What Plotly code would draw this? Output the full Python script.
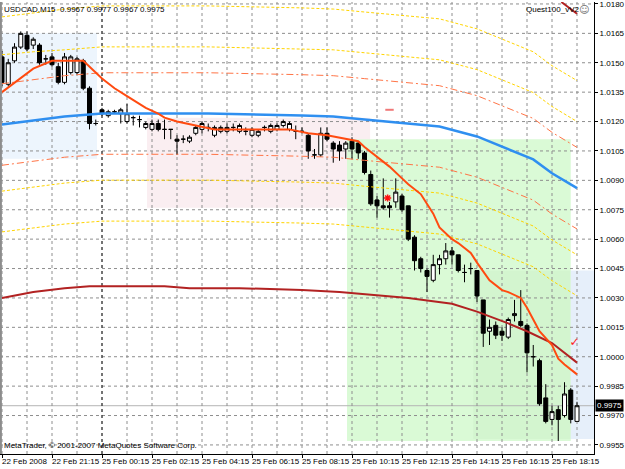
import plotly.graph_objects as go

# ---------------- data ----------------
bar_idx = list(range(93))
opens = [1.0153, 1.0139, 1.0151, 1.0158, 1.0164, 1.0159, 1.0159, 1.0152, 1.0153, 1.0148,
         1.0140, 1.0145, 1.0145, 1.0151, 1.0137, 1.0119, 1.0126, 1.0123, 1.0125, 1.0124,
         1.0120, 1.0122, 1.0121, 1.0117, 1.0116, 1.0119, 1.0116, 1.0116, 1.0111, 1.0111,
         1.0110, 1.0114, 1.0116, 1.0117, 1.0113, 1.0115, 1.0115, 1.0117, 1.0115, 1.0115,
         1.0113, 1.0113, 1.0117, 1.0115, 1.0116, 1.0118, 1.0116, 1.0115, 1.0115, 1.0113,
         1.0103, 1.0103, 1.0114, 1.0109, 1.0108, 1.0106, 1.0110, 1.0109, 1.0104, 1.0093,
         1.0080, 1.0077, 1.0077, 1.0079, 1.0082, 1.0077, 1.0061, 1.0050, 1.0044, 1.0039,
         1.0047, 1.0050, 1.0054, 1.0052, 1.0043, 1.0045, 1.0044, 1.0029, 1.0013, 1.0016,
         1.0013, 1.0010, 1.0021, 1.0018, 1.0016, 1.0000, 0.9998, 0.9979, 0.9968, 0.9973,
         0.9970, 0.9983, 0.9967]
highs = [1.0156, 1.0152, 1.0160, 1.0166, 1.0166, 1.0163, 1.0160, 1.0154, 1.0155, 1.0150,
         1.0155, 1.0154, 1.0153, 1.0152, 1.0138, 1.0121, 1.0127, 1.0126, 1.0126, 1.0127,
         1.0129, 1.0123, 1.0123, 1.0120, 1.0121, 1.0121, 1.0121, 1.0116, 1.0113, 1.0113,
         1.0113, 1.0118, 1.0120, 1.0119, 1.0118, 1.0118, 1.0119, 1.0119, 1.0119, 1.0117,
         1.0117, 1.0116, 1.0118, 1.0119, 1.0119, 1.0121, 1.0120, 1.0118, 1.0117, 1.0114,
         1.0106, 1.0117, 1.0117, 1.0110, 1.0110, 1.0110, 1.0112, 1.0110, 1.0105, 1.0095,
         1.0082, 1.0091, 1.0079, 1.0091, 1.0083, 1.0077, 1.0062, 1.0051, 1.0045, 1.0052,
         1.0052, 1.0058, 1.0056, 1.0052, 1.0047, 1.0048, 1.0044, 1.0029, 1.0019, 1.0018,
         1.0015, 1.0020, 1.0029, 1.0034, 1.0017, 1.0006, 0.9999, 0.9986, 0.9975, 0.9975,
         0.9987, 0.9984, 0.9977]
lows = [1.0138, 1.0138, 1.0150, 1.0157, 1.0156, 1.0157, 1.0149, 1.0149, 1.0148, 1.0139,
        1.0139, 1.0144, 1.0144, 1.0136, 1.0116, 1.0118, 1.0123, 1.0122, 1.0124, 1.0119,
        1.0119, 1.0118, 1.0117, 1.0116, 1.0115, 1.0115, 1.0111, 1.0111, 1.0103, 1.0109,
        1.0109, 1.0113, 1.0114, 1.0115, 1.0112, 1.0114, 1.0114, 1.0115, 1.0114, 1.0113,
        1.0112, 1.0112, 1.0115, 1.0114, 1.0115, 1.0117, 1.0115, 1.0111, 1.0114, 1.0101,
        1.0101, 1.0102, 1.0110, 1.0099, 1.0100, 1.0101, 1.0101, 1.0101, 1.0093, 1.0077,
        1.0071, 1.0075, 1.0071, 1.0076, 1.0074, 1.0059, 1.0044, 1.0043, 1.0033, 1.0038,
        1.0042, 1.0047, 1.0047, 1.0043, 1.0038, 1.0042, 1.0028, 1.0005, 1.0006, 1.0009,
        1.0008, 1.0009, 1.0018, 1.0015, 0.9992, 0.9995, 0.9975, 0.9966, 0.9965, 0.9957,
        0.9969, 0.9966, 0.9967]
closes = [1.0140, 1.0150, 1.0158, 1.0165, 1.0157, 1.0162, 1.0150, 1.0152, 1.0149, 1.0140,
          1.0153, 1.0153, 1.0152, 1.0137, 1.0119, 1.0119, 1.0124, 1.0125, 1.0125, 1.0126,
          1.0124, 1.0122, 1.0121, 1.0119, 1.0119, 1.0116, 1.0116, 1.0116, 1.0110, 1.0111,
          1.0112, 1.0117, 1.0119, 1.0117, 1.0117, 1.0117, 1.0117, 1.0117, 1.0118, 1.0115,
          1.0116, 1.0115, 1.0117, 1.0118, 1.0118, 1.0120, 1.0119, 1.0115, 1.0115, 1.0105,
          1.0103, 1.0114, 1.0111, 1.0106, 1.0105, 1.0109, 1.0106, 1.0104, 1.0094, 1.0078,
          1.0077, 1.0076, 1.0076, 1.0084, 1.0075, 1.0060, 1.0049, 1.0045, 1.0041, 1.0047,
          1.0050, 1.0054, 1.0052, 1.0044, 1.0043, 1.0045, 1.0031, 1.0012, 1.0015, 1.0011,
          1.0011, 1.0019, 1.0022, 1.0016, 1.0002, 1.0000, 0.9976, 0.9967, 0.9972, 0.9968,
          0.9981, 0.9968, 0.9975]

x_label_idx = [0, 8, 16, 24, 32, 40, 48, 56, 64, 72, 80, 88]
x_labels = ["22 Feb 2008", "22 Feb 21:15", "25 Feb 00:15", "25 Feb 02:15", "25 Feb 04:15",
            "25 Feb 06:15", "25 Feb 08:15", "25 Feb 10:15", "25 Feb 12:15", "25 Feb 14:15",
            "25 Feb 16:15", "25 Feb 18:15"]
x_grid_idx = [0, 4, 8, 12, 16, 20, 24, 28, 32, 36, 40, 44, 48, 52, 56, 60, 64, 68, 72,
              76, 80, 84, 88, 92]
y_ticks = [1.0180, 1.0165, 1.0150, 1.0135, 1.0120, 1.0105, 1.0090, 1.0075, 1.0060,
           1.0045, 1.0030, 1.0015, 1.0000, 0.9985, 0.9970, 0.9955]

# fast moving average (orange-red)
ema_idx = [0, 5, 8, 13, 16, 18, 20, 23, 25, 26, 28, 31, 34, 46, 49, 52, 57, 58, 60, 62,
           64, 65, 67, 69, 70, 72, 73, 75, 76, 78, 80, 81, 83, 84, 86, 88, 89, 90, 92]
ema_val = [1.0135, 1.0147, 1.0151, 1.0151, 1.0142, 1.0137, 1.0133, 1.0127, 1.0124, 1.0122,
           1.0120, 1.0118, 1.0116, 1.0116, 1.0114, 1.0113, 1.0110, 1.0107, 1.0102, 1.0097,
           1.0091, 1.0088, 1.0083, 1.0073, 1.0066, 1.0060, 1.0058, 1.0053, 1.0048, 1.0039,
           1.0034, 1.0033, 1.0030, 1.0025, 1.0013, 1.0006, 0.9999, 0.9996, 0.9991]

# slow average (dark red)
slow_idx = [0, 5, 10, 14, 26, 30, 38, 48, 54, 58, 65, 72, 76, 81, 84, 88, 92]
slow_val = [1.0030, 1.0033, 1.0035, 1.0036, 1.0036, 1.0035, 1.0035, 1.0034, 1.0033, 1.0032,
            1.0030, 1.0027, 1.0023, 1.0017, 1.0013, 1.0007, 0.9997]

# middle line (blue) and its envelopes
mid_idx = [0, 5, 10, 16, 33, 48, 53, 58, 65, 70, 76, 81, 85, 88, 92]
mid_val = [1.01185, 1.01205, 1.01226, 1.01241, 1.01241, 1.01231, 1.01226, 1.01211,
           1.01190, 1.01175, 1.01124, 1.01058, 1.01007, 1.00936, 1.00860]
env_up1 = [1.01393, 1.01414, 1.01434, 1.01449, 1.01449, 1.01439, 1.01434, 1.01419,
           1.01399, 1.01383, 1.01332, 1.01266, 1.01216, 1.01145, 1.01068]
env_dn1 = [1.00977, 1.00997, 1.01018, 1.01033, 1.01033, 1.01023, 1.01018, 1.01002,
           1.00982, 1.00967, 1.00916, 1.00850, 1.00799, 1.00728, 1.00652]
env_up2 = [1.01541, 1.01556, 1.01566, 1.01581, 1.01581, 1.01571, 1.01566, 1.01551,
           1.01531, 1.01515, 1.01465, 1.01399, 1.01348, 1.01277, 1.01200]
env_dn2 = [1.00845, 1.00865, 1.00886, 1.00901, 1.00901, 1.00891, 1.00886, 1.00870,
           1.00850, 1.00835, 1.00784, 1.00718, 1.00667, 1.00596, 1.00520]
env_up3 = [1.01734, 1.01754, 1.01774, 1.01790, 1.01790, 1.01780, 1.01774, 1.01759,
           1.01739, 1.01724, 1.01673, 1.01607, 1.01556, 1.01485, 1.01409]
env_dn3 = [1.00637, 1.00657, 1.00677, 1.00692, 1.00692, 1.00682, 1.00677, 1.00662,
           1.00642, 1.00626, 1.00576, 1.00510, 1.00459, 1.00388, 1.00311]

# short dark-red segment at the top right
seg_idx = [89.5, 92]
seg_val = [1.0181, 1.0175]

# signal marks
dash_sig_idx = [62]
dash_sig_val = [1.0126]
star_sig_idx = [61.7]
star_sig_val = [1.0081]
check_sig_idx = [91.6]
check_sig_val = [1.0007]

# shaded zones (bar index / price)
zone_x0 = [-1.0, 23.2, 55.2, 75.4, 91.0]
zone_x1 = [15.2, 58.9, 91.0, 91.0, 96.0]
zone_y0 = [1.0101, 1.0076, 0.9957, 0.9958, 0.9958]
zone_y1 = [1.0165, 1.0122, 1.0111, 1.0044, 1.0044]
zone_colors = ["#EDF5FD", "#FAEEF1", "#DAFAD6", "#D3F5CF", "#E6EFFA"]

bid_price = 0.9975
separator_idx = 16

FONT = "Liberation Sans"
X_RANGE = [-0.32, 94.72]
Y_RANGE = [0.995037, 1.0181]

fig = go.Figure()

# candles
fig.add_trace(go.Candlestick(
    x=bar_idx, open=opens, high=highs, low=lows, close=closes,
    increasing=dict(line=dict(color="black", width=1), fillcolor="white"),
    decreasing=dict(line=dict(color="black", width=1), fillcolor="black"),
    whiskerwidth=0, hoverinfo="skip", showlegend=False))

def line(xs, ys, color, width, dash="solid"):
    fig.add_trace(go.Scatter(x=xs, y=ys, mode="lines",
                             line=dict(color=color, width=width, dash=dash),
                             hoverinfo="skip", showlegend=False))

YEL = "#FFD400"
ORG = "#FF7446"
line(mid_idx, env_up3, YEL, 1, "3px,2px")
line(mid_idx, env_dn3, YEL, 1, "3px,2px")
line(mid_idx, env_up2, YEL, 1, "3px,2px")
line(mid_idx, env_dn2, YEL, 1, "3px,2px")
line(mid_idx, env_up1, ORG, 1, "7px,3px,2px,3px")
line(mid_idx, env_dn1, ORG, 1, "7px,3px,2px,3px")
line(mid_idx, mid_val, "#2F8FF0", 2.5)
line(slow_idx, slow_val, "#B22222", 2)
line(ema_idx, ema_val, "#FF4A10", 2)
line(seg_idx, seg_val, "#B22222", 2)

fig.add_trace(go.Scatter(x=dash_sig_idx, y=dash_sig_val, mode="markers",
                         marker=dict(symbol="line-ew-open", size=6, color="#F07878",
                                     line=dict(color="#F07878", width=2)),
                         hoverinfo="skip", showlegend=False))
fig.add_trace(go.Scatter(x=star_sig_idx, y=star_sig_val, mode="markers",
                         marker=dict(symbol="asterisk-open", size=6, color="#FF1010",
                                     line=dict(color="#FF1010", width=1.5)),
                         hoverinfo="skip", showlegend=False))
fig.add_trace(go.Scatter(x=check_sig_idx, y=check_sig_val, mode="text",
                         text=["✓"], textfont=dict(color="#FF2020", size=12, family="DejaVu Sans"),
                         hoverinfo="skip", showlegend=False))

GRID = "#8E8E8E"
shapes = []
for x0, x1, y0, y1, c in zip(zone_x0, zone_x1, zone_y0, zone_y1, zone_colors):
    shapes.append(dict(type="rect", xref="x", yref="y", x0=x0, x1=x1, y0=y0, y1=y1,
                       fillcolor=c, line=dict(width=0), layer="below"))
shapes.append(dict(type="line", xref="x", yref="y", x0=X_RANGE[0], x1=X_RANGE[1],
                   y0=bid_price, y1=bid_price, line=dict(color="#B4B4B4", width=1), layer="below"))
for v in y_ticks:
    shapes.append(dict(type="line", xref="x", yref="y", x0=X_RANGE[0], x1=X_RANGE[1],
                       y0=v, y1=v, line=dict(color=GRID, width=1, dash="3px,3px"),
                       layer="between"))
for i in x_grid_idx:
    shapes.append(dict(type="line", xref="x", yref="y", x0=i, x1=i,
                       y0=Y_RANGE[0], y1=Y_RANGE[1], line=dict(color=GRID, width=1, dash="3px,3px"),
                       layer="between"))
shapes.append(dict(type="line", xref="x", yref="y", x0=separator_idx, x1=separator_idx,
                   y0=Y_RANGE[0], y1=Y_RANGE[1], line=dict(color="#202020", width=1, dash="3px,3px"),
                   layer="between"))
shapes.append(dict(type="line", xref="paper", yref="paper", x0=0.0015, x1=0.0015, y0=0, y1=1,
                   line=dict(color="#8C8C8C", width=2), layer="above"))

annotations = []
for i, t in zip(x_label_idx, x_labels):
    annotations.append(dict(x=i, y=0, xref="x", yref="paper", text=t, showarrow=False,
                            xanchor="left", yanchor="top", xshift=-2, yshift=-1,
                            font=dict(family=FONT, size=8, color="black")))
annotations.append(dict(x=0, y=1, xref="paper", yref="paper",
                        text="USDCAD,M15  0.9967 0.9977 0.9967 0.9975", showarrow=False,
                        xanchor="left", yanchor="top", xshift=2, yshift=-1,
                        font=dict(family=FONT, size=8, color="black")))
annotations.append(dict(x=0, y=0, xref="paper", yref="paper",
                        text="MetaTrader, © 2001-2007 MetaQuotes Software Corp.", showarrow=False,
                        xanchor="left", yanchor="bottom", xshift=2, yshift=2,
                        font=dict(family=FONT, size=8, color="black")))
annotations.append(dict(x=1, y=1, xref="paper", yref="paper", text="Quest100_vV2",
                        showarrow=False, xanchor="right", yanchor="top", xshift=-13, yshift=-1,
                        font=dict(family=FONT, size=8, color="black")))
annotations.append(dict(x=1, y=1, xref="paper", yref="paper", text="☺",
                        showarrow=False, xanchor="right", yanchor="top", xshift=-3, yshift=0,
                        font=dict(family="DejaVu Sans", size=10, color="#707070")))
annotations.append(dict(x=1, y=bid_price, xref="paper", yref="y", text="0.9975",
                        showarrow=False, xanchor="left", yanchor="middle", xshift=1,
                        bgcolor="black", borderpad=1,
                        font=dict(family=FONT, size=8, color="white")))

fig.update_layout(
    width=625, height=469,
    margin=dict(l=0, r=31, t=0, b=15, pad=0),
    paper_bgcolor="white", plot_bgcolor="white",
    font=dict(family=FONT, size=8, color="black"),
    showlegend=False,
    boxgap=0.2, boxgroupgap=0.2,
    shapes=shapes, annotations=annotations,
    xaxis=dict(range=X_RANGE, rangeslider=dict(visible=False),
               tickmode="array", tickvals=x_label_idx, ticktext=[""] * len(x_label_idx),
               ticks="outside", ticklen=3, tickcolor="black", showgrid=False,
               showline=True, linecolor="black", linewidth=1, zeroline=False),
    yaxis=dict(range=Y_RANGE, side="right",
               tickmode="array", tickvals=y_ticks, tickformat=".4f",
               ticks="outside", ticklen=3, tickcolor="black", showgrid=False,
               ticklabeloverflow="allow",
               showline=True, linecolor="black", linewidth=1, zeroline=False,
               tickfont=dict(family=FONT, size=8, color="black")),
)

fig.write_html("out.html")
